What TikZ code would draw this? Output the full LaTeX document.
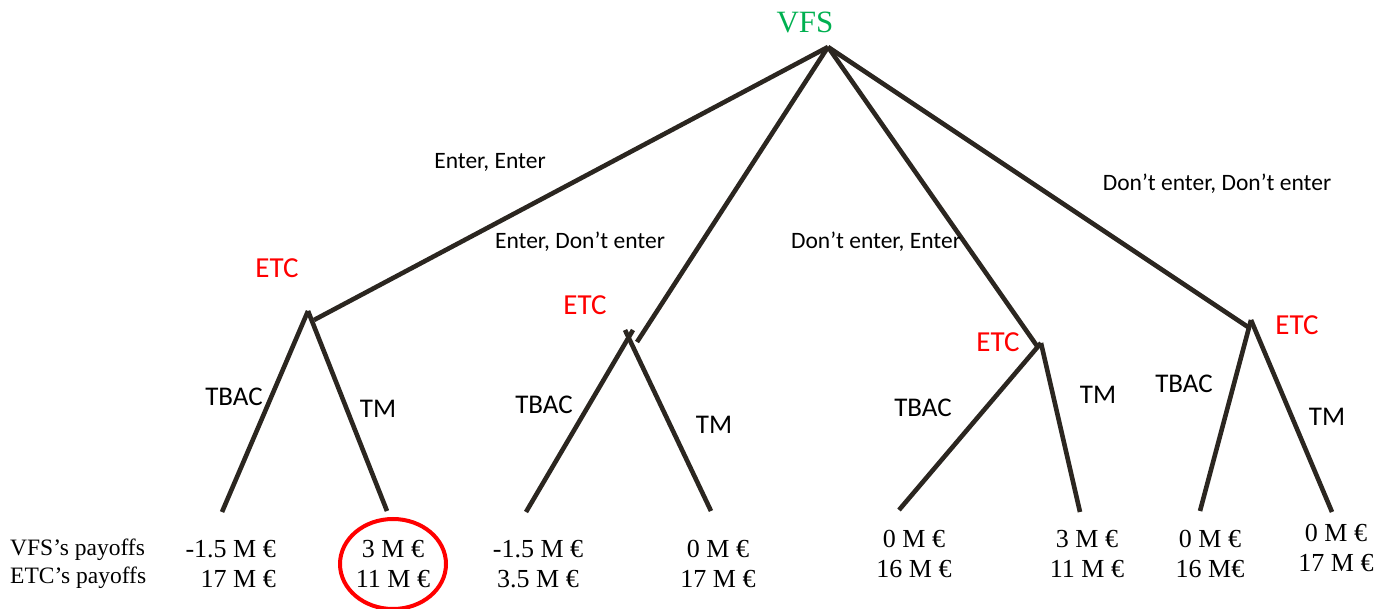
\documentclass[tikz,border=0pt]{standalone}
\usepackage{fontspec}
\setmainfont{Liberation Serif}
\newfontfamily\labelfont{Carlito}
\definecolor{branch}{HTML}{2B2620}
\definecolor{vfsgreen}{HTML}{00B050}
\definecolor{etcred}{HTML}{FF0000}
\begin{document}
\begin{tikzpicture}[x=1pt,y=-1pt,
  branchline/.style={draw=branch,line width=4.6pt},
  player/.style={inner sep=0pt,font=\labelfont\fontsize{29}{34}\selectfont,text=etcred},
  movelabel/.style={inner sep=0pt,font=\labelfont\fontsize{23.5}{28}\selectfont},
  actlabel/.style={inner sep=0pt,font=\labelfont\fontsize{27}{32}\selectfont},
  payoff/.style={inner sep=0pt,align=center,font=\fontsize{26}{30}\selectfont},
]
\useasboundingbox (0,0) rectangle (1392,609);

% decision points
\coordinate (root) at (828,47);
\coordinate (e1in) at (314,320);
\coordinate (e1) at (308,311);
\coordinate (e2in) at (637,342);
\coordinate (e2a) at (633,330);
\coordinate (e2b) at (625,330);
\coordinate (e3in) at (1037,346);
\coordinate (e3) at (1041,343);
\coordinate (e4in) at (1248,327);
\coordinate (e4) at (1251,320);

% leaf ends
\coordinate (l1) at (222,512);
\coordinate (l2) at (387,511);
\coordinate (l3) at (526,512);
\coordinate (l4) at (711,511);
\coordinate (l5) at (899,510);
\coordinate (l6) at (1080,512);
\coordinate (l7) at (1200,511);
\coordinate (l8) at (1332,512);

% VFS moves
\draw[branchline] (root) -- (e1in);
\draw[branchline] (root) -- (e2in);
\draw[branchline] (root) -- (e3in);
\draw[branchline] (root) -- (e4in);

% ETC moves
\draw[branchline] (e1) -- (l1);
\draw[branchline] (e1) -- (l2);
\draw[branchline] (e2a) -- (l3);
\draw[branchline] (e2b) -- (l4);
\draw[branchline] (e3) -- (l5);
\draw[branchline] (e3) -- (l6);
\draw[branchline] (e4) -- (l7);
\draw[branchline] (e4) -- (l8);

% players
\node[inner sep=0pt,font=\fontsize{31}{36}\selectfont,text=vfsgreen] (vfs) at (805,22) {VFS};
\node[player] (etc1) at (277,268) {ETC};
\node[player] (etc2) at (585,305) {ETC};
\node[player] (etc3) at (998,342) {ETC};
\node[player] (etc4) at (1297,325) {ETC};

% VFS strategy labels
\node[movelabel] (m1) at (490,162) {Enter, Enter};
\node[movelabel] (m2) at (580,242) {Enter, Don’t enter};
\node[movelabel] (m3) at (876,242) {Don’t enter, Enter};
\node[movelabel] (m4) at (1217,184) {Don’t enter, Don’t enter};

% ETC action labels
\node[actlabel] (a1) at (234,397) {TBAC};
\node[actlabel] (a2) at (378,409) {TM};
\node[actlabel] (a3) at (544,405) {TBAC};
\node[actlabel] (a4) at (714,425) {TM};
\node[actlabel] (a5) at (923,408) {TBAC};
\node[actlabel] (a6) at (1098,395) {TM};
\node[actlabel] (a7) at (1184,384) {TBAC};
\node[actlabel] (a8) at (1327,417) {TM};

% payoffs
\node[payoff,align=left,anchor=west,font=\fontsize{23.5}{28}\selectfont] (legend) at (10,564) {VFS’s payoffs\\ETC’s payoffs};
\node[payoff,align=right,anchor=east] (p1) at (276,564) {-1.5 M €\\17 M €};
\node[payoff] (p2) at (393,564) {3 M €\\11 M €};
\node[payoff] (p3) at (538,564) {-1.5 M €\\3.5 M €};
\node[payoff] (p4) at (718,564) {0 M €\\17 M €};
\node[payoff] (p5) at (914,554) {0 M €\\16 M €};
\node[payoff] (p6) at (1087,554) {3 M €\\11 M €};
\node[payoff] (p7) at (1210,554) {0 M €\\16 M€};
\node[payoff] (p8) at (1336,548) {0 M €\\17 M €};

% equilibrium outcome
\draw[etcred,line width=4pt] (p2.center) ellipse [x radius=53,y radius=45];
\end{tikzpicture}
\end{document}
